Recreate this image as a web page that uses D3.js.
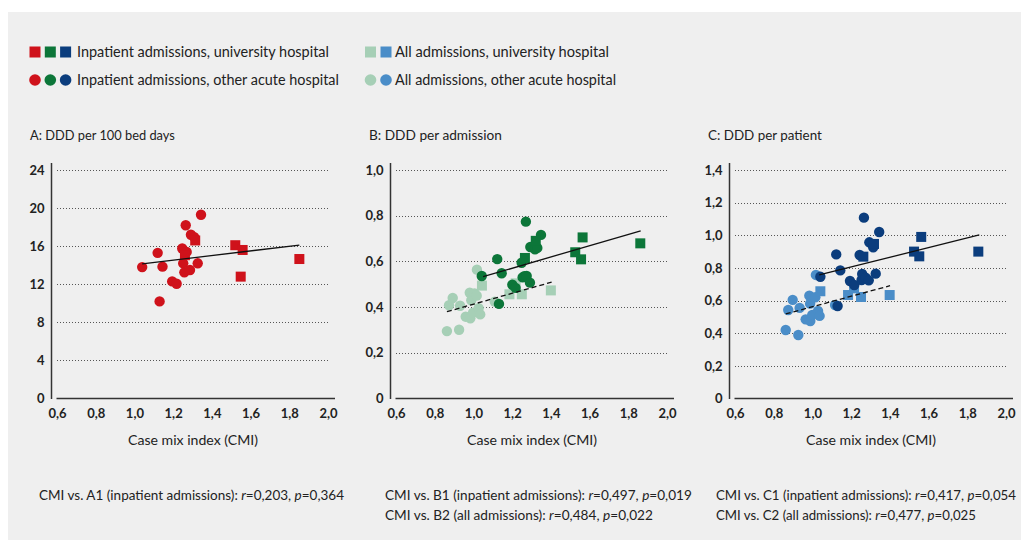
<!DOCTYPE html>
<html><head><meta charset="utf-8">
<script src="https://cdn.jsdelivr.net/npm/d3@7"></script>
<style>
html,body{margin:0;padding:0;background:#fff;}
svg{display:block;}
text{font-family:Lato,"Noto Sans",sans-serif;fill:#222;}
</style></head>
<body><svg id="c" width="1021" height="549"></svg>
<script>
// ---------- data ----------
const xTicks = [0.6,0.8,1.0,1.2,1.4,1.6,1.8,2.0];
const yTicksA = [0,4,8,12,16,20,24];
const yTicksB = [0,0.2,0.4,0.6,0.8,1.0];
const yTicksC = [0,0.2,0.4,0.6,0.8,1.0,1.2,1.4];

const panelTitles = ["A: DDD per 100 bed days","B: DDD per admission","C: DDD per patient"];
const xAxisTitle = "Case mix index (CMI)";

// [CMI, value]
const A_inpOther = [[1.04,13.8],[1.12,15.3],[1.145,13.85],[1.13,10.2],[1.195,12.3],[1.218,12.05],[1.247,15.75],[1.252,14.2],[1.258,13.25],[1.265,18.2],[1.27,15.4],[1.287,13.5],[1.292,17.2],[1.309,16.95],[1.327,14.2],[1.344,19.3]];
const A_inpUniv = [[1.261,15.05],[1.314,16.6],[1.521,16.1],[1.559,15.6],[1.549,12.8],[1.852,14.65]];

const B_inpOther = [[1.043,0.536],[1.123,0.61],[1.132,0.414],[1.146,0.548],[1.201,0.498],[1.218,0.484],[1.249,0.594],[1.254,0.53],[1.263,0.535],[1.271,0.774],[1.275,0.536],[1.292,0.507],[1.294,0.663],[1.318,0.653],[1.33,0.659],[1.349,0.716]];
const B_inpUniv = [[1.266,0.615],[1.322,0.69],[1.526,0.64],[1.564,0.705],[1.556,0.609],[1.862,0.679]];
const B_allOther = [[0.863,0.295],[0.874,0.408],[0.893,0.44],[0.926,0.301],[0.931,0.406],[0.96,0.358],[0.981,0.463],[0.984,0.351],[0.989,0.43],[0.998,0.376],[1.006,0.46],[1.017,0.45],[1.018,0.564],[1.027,0.395],[1.035,0.368],[1.11,0.424]];
const B_allUniv = [[1.044,0.494],[1.186,0.456],[1.218,0.504],[1.25,0.456],[1.4,0.473]];

const C_inpOther = [[1.041,0.746],[1.123,0.883],[1.13,0.567],[1.144,0.785],[1.194,0.72],[1.216,0.695],[1.244,0.879],[1.254,0.726],[1.257,0.763],[1.266,1.108],[1.275,0.74],[1.291,0.724],[1.294,0.957],[1.314,0.926],[1.327,0.765],[1.345,1.02]];
const C_inpUniv = [[1.263,0.869],[1.318,0.947],[1.525,0.9],[1.562,0.99],[1.552,0.871],[1.857,0.9]];
const C_allOther = [[0.862,0.42],[0.875,0.542],[0.898,0.604],[0.927,0.389],[0.934,0.555],[0.965,0.485],[0.984,0.63],[0.988,0.581],[0.989,0.475],[0.999,0.512],[1.015,0.62],[1.018,0.757],[1.029,0.536],[1.037,0.506],[1.117,0.573]];
const C_allUniv = [[1.041,0.657],[1.184,0.634],[1.215,0.675],[1.251,0.622],[1.399,0.634]];

// regression lines (end points)
const A_fitInp = [[1.04,14.13],[1.852,16.12]];
const B_fitInp = [[1.05,0.533],[1.864,0.734]];
const B_fitAll = [[0.863,0.38],[1.404,0.509]];
const C_fitInp = [[1.035,0.757],[1.862,1.002]];
const C_fitAll = [[0.862,0.518],[1.401,0.691]];

const statsA = [[["CMI vs. A1 (inpatient admissions): ",""],["r","i"],["=0,203, ",""],["p","i"],["=0,364",""]]];
const statsB = [[["CMI vs. B1 (inpatient admissions): ",""],["r","i"],["=0,497, ",""],["p","i"],["=0,019",""]],
                [["CMI vs. B2 (all admissions): ",""],["r","i"],["=0,484, ",""],["p","i"],["=0,022",""]]];
const statsC = [[["CMI vs. C1 (inpatient admissions): ",""],["r","i"],["=0,417, ",""],["p","i"],["=0,054",""]],
                [["CMI vs. C2 (all admissions): ",""],["r","i"],["=0,477, ",""],["p","i"],["=0,025",""]]];

const legendRows = ["Inpatient admissions, university hospital","Inpatient admissions, other acute hospital"];
const legendRows2 = ["All admissions, university hospital","All admissions, other acute hospital"];

// ---------- styles ----------
const COL = {red:"#cf121b", dgreen:"#0c7639", lgreen:"#a6cfb6", dblue:"#0b3d7d", lblue:"#4a8dc8"};

const svg = d3.select("#c");
svg.append("rect").attr("x",8).attr("y",12).attr("width",1013).attr("height",528).attr("fill","#efefef");

// scale font-size so that the text's natural width matches the target width
function fitSize(sel, w, base){
  const n = sel.node().getComputedTextLength();
  if(n>0) sel.attr("font-size", (base*w/n).toFixed(2));
}

// legend
const lg = svg.append("g");
[COL.red,COL.dgreen,COL.dblue].forEach((c,i)=>{
  lg.append("rect").attr("x",29.5+i*15.3).attr("y",46.5).attr("width",11).attr("height",11).attr("fill",c);
  lg.append("circle").attr("cx",35+i*15.3).attr("cy",80).attr("r",5.8).attr("fill",c);
});
[COL.lgreen,COL.lblue].forEach((c,i)=>{
  lg.append("rect").attr("x",365+i*15.5).attr("y",46.5).attr("width",11).attr("height",11).attr("fill",c);
  lg.append("circle").attr("cx",370.5+i*15.5).attr("cy",80).attr("r",5.8).attr("fill",c);
});
fitSize(lg.append("text").attr("x",77).attr("y",57).attr("font-size",14).text(legendRows[0]),252,14);
fitSize(lg.append("text").attr("x",77).attr("y",85).attr("font-size",14).text(legendRows[1]),262,14);
fitSize(lg.append("text").attr("x",395).attr("y",57).attr("font-size",14).text(legendRows2[0]),214,14);
fitSize(lg.append("text").attr("x",395).attr("y",85).attr("font-size",14).text(legendRows2[1]),221,14);

const fmt = v => v===0 ? "0" : d3.format(".1f")(v).replace(".",",");

const panels = [
  {dx:0, yMax:24, ticks:yTicksA, tf:d3.format("d"), title:panelTitles[0], titleW:145,
   layers:[{d:A_inpOther,shape:"c",col:COL.red},{d:A_inpUniv,shape:"s",col:COL.red}],
   lines:[{d:A_fitInp,dash:null}], stats:statsA, statsW:[305]},
  {dx:339, yMax:1.0, ticks:yTicksB, tf:fmt, title:panelTitles[1], titleW:133,
   layers:[{d:B_allOther,shape:"c",col:COL.lgreen},{d:B_allUniv,shape:"s",col:COL.lgreen},
           {d:B_inpOther,shape:"c",col:COL.dgreen},{d:B_inpUniv,shape:"s",col:COL.dgreen}],
   lines:[{d:B_fitInp,dash:null},{d:B_fitAll,dash:"5,3"}], stats:statsB, statsW:[307,268]},
  {dx:678, yMax:1.4, ticks:yTicksC, tf:fmt, title:panelTitles[2], titleW:114,
   layers:[{d:C_allOther,shape:"c",col:COL.lblue},{d:C_allUniv,shape:"s",col:COL.lblue},
           {d:C_inpOther,shape:"c",col:COL.dblue},{d:C_inpUniv,shape:"s",col:COL.dblue}],
   lines:[{d:C_fitInp,dash:null},{d:C_fitAll,dash:"5,3"}], stats:statsC, statsW:[300,260]}
];
const statsX = [39, 385, 716];

panels.forEach((p,pi)=>{
  const g = svg.append("g");
  const x = d3.scaleLinear().domain([0.6,2.0]).range([57+p.dx, 328+p.dx]);
  const y = d3.scaleLinear().domain([0,p.yMax]).range([398.5,170]);

  fitSize(g.append("text").attr("x",30+p.dx).attr("y",140).attr("font-size",14).text(p.title), p.titleW, 14);

  // gridlines
  g.selectAll("line.grid").data(p.ticks.filter(t=>t>0)).join("line")
    .attr("x1",x(0.6)).attr("x2",x(2.0))
    .attr("y1",d=>Math.round(y(d))+0.5).attr("y2",d=>Math.round(y(d))+0.5)
    .attr("stroke","#555").attr("stroke-width",1).attr("stroke-dasharray","1,2");

  // y axis
  const ya = g.append("g").attr("transform",`translate(${51.5+p.dx},0)`)
    .call(d3.axisLeft(y).tickValues(p.ticks).tickFormat(p.tf).tickSize(0).tickPadding(7));
  ya.select(".domain").remove();
  ya.selectAll("text").attr("font-size",13).attr("font-weight",700).attr("fill","#222")
    .style("font-family","Lato, sans-serif");
  g.append("line").attr("x1",51.5+p.dx).attr("x2",51.5+p.dx).attr("y1",163).attr("y2",399)
    .attr("stroke","#333").attr("stroke-width",1.5);

  // x axis
  const xa = g.append("g").attr("transform",`translate(0,399)`)
    .call(d3.axisBottom(x).tickValues(xTicks).tickFormat(fmt).tickSize(0).tickPadding(10));
  xa.select(".domain").remove();
  xa.selectAll("text").attr("font-size",13).attr("font-weight",700).attr("fill","#222")
    .style("font-family","Lato, sans-serif");
  g.append("line").attr("x1",x(0.6)-0.5).attr("x2",x(2.0)+7).attr("y1",398.5).attr("y2",398.5)
    .attr("stroke","#333").attr("stroke-width",1.5);
  fitSize(g.append("text").attr("x",(x(0.6)+x(2.0))/2+0.5).attr("y",445).attr("text-anchor","middle")
    .attr("font-size",14).text(xAxisTitle),130,14);

  // points
  p.layers.forEach(L=>{
    if(L.shape==="c"){
      g.append("g").selectAll("circle").data(L.d).join("circle")
        .attr("cx",d=>x(d[0])).attr("cy",d=>y(d[1])).attr("r",5.2).attr("fill",L.col);
    } else {
      g.append("g").selectAll("rect").data(L.d).join("rect")
        .attr("x",d=>x(d[0])-5).attr("y",d=>y(d[1])-5).attr("width",10).attr("height",10).attr("fill",L.col);
    }
  });

  // fit lines
  const line = d3.line().x(d=>x(d[0])).y(d=>y(d[1]));
  p.lines.forEach(l=>{
    g.append("path").attr("d",line(l.d)).attr("fill","none").attr("stroke","#111")
      .attr("stroke-width",1.3).attr("stroke-dasharray",l.dash);
  });

  // stats text
  p.stats.forEach((row,ri)=>{
    const t = g.append("text").attr("x",statsX[pi]).attr("y",500+ri*20).attr("font-size",14);
    row.forEach(seg=>{
      const ts = t.append("tspan").text(seg[0]);
      if(seg[1]==="i") ts.attr("font-style","italic");
    });
    fitSize(t, p.statsW[ri], 14);
  });
});
</script></body></html>
